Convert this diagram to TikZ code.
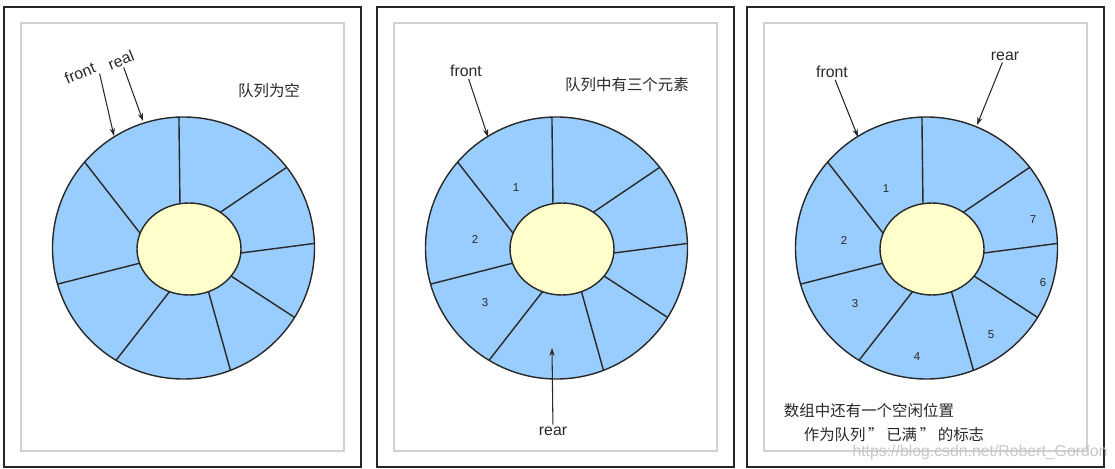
\documentclass[tikz,border=0pt]{standalone}
\usepackage{fontspec}
\setmainfont{Liberation Sans}
\newfontfamily\cjk{Noto Sans CJK SC}
\usetikzlibrary{arrows.meta,calc}
\definecolor{cellblue}{RGB}{153,204,255}
\definecolor{hubyellow}{RGB}{255,255,204}
\definecolor{inkgray}{RGB}{40,40,40}

\begin{document}
\begin{tikzpicture}[x=0.02cm, y=-0.02cm,
    frame/.style={draw=black!85, line width=1.1pt},
    inframe/.style={draw=black!18, line width=0.6pt},
    cell/.style={draw=inkgray, line width=0.8pt},
    lbl/.style={font=\fontsize{9}{10}\selectfont, text=inkgray, inner sep=1pt},
    note/.style={font=\cjk\fontsize{8.8}{10}\selectfont, text=inkgray, inner sep=1pt},
    num/.style={font=\fontsize{6.5}{7}\selectfont, text=inkgray, inner sep=0.5pt},
    ptr/.style={-{Stealth[length=4.5pt,width=3pt]}, line width=0.6pt, inkgray}
  ]
  \useasboundingbox (0,0) rectangle (1115,469);
  % three panels, same ring in each
  \foreach \px in {4,377,747} {
    \begin{scope}[shift={(\px,0)}]
      \draw[frame] (0,7) rectangle (357,467);
      \draw[inframe] (17,23) rectangle (340,451);
      \draw[cell, fill=cellblue] (179.5,248) circle (131);
      \foreach \o/\i in {-92/-100,-38/-53,-2/5,32/36,69/68,121/112,164/162,-139/-160}
        \draw[cell] ($(185,249)+(\i:52 and 46)$) -- ($(179.5,248)+(\o:131)$);
      \draw[cell, fill=hubyellow] (185,249) ellipse (52 and 46);
    \end{scope}
  }
  % panel 1: empty queue
  \node[lbl, rotate=22] (frontA) at (80,73) {front};
  \node[lbl, rotate=22] (realA) at (121,60) {real};
  \node[note] (noteA) at (269,91) {队列为空};
  \coordinate (frontAtip) at (114,136);
  \coordinate (realAtip) at (143,121);
  \draw[ptr] (frontA.south east) -- (frontAtip);
  \draw[ptr] (realA) -- (realAtip);
  % panel 2: three elements
  \node[lbl] (frontB) at (466,71) {front};
  \node[lbl] (rearB) at (553,431) {rear};
  \node[note] (noteB) at (627,85) {队列中有三个元素};
  \coordinate (frontBtip) at (488,137);
  \coordinate (rearBtip) at (552,348);
  \draw[ptr] (frontB) -- (frontBtip);
  \draw[ptr] (rearB) -- (rearBtip);
  \foreach \n/\x/\y in {1/516/188,2/475/240,3/485/303}
    \node[num] (cellB\n) at (\x,\y) {\n};
  % panel 3: full queue
  \node[lbl] (frontC) at (832,72) {front};
  \node[lbl] (rearC) at (1005,56) {rear};
  \coordinate (frontCtip) at (858,137);
  \coordinate (rearCtip) at (977,125);
  \draw[ptr] (frontC) -- (frontCtip);
  \draw[ptr] (rearC) -- (rearCtip);
  \foreach \n/\x/\y in {1/886/189,2/844/241,3/855/304,4/917/357,5/991/335,6/1043/283,7/1033/220}
    \node[num] (cellC\n) at (\x,\y) {\n};
  \node[note] (noteC) at (869,411) {数组中还有一个空闲位置};
  \node[note] (noteD) at (894,435) {作为队列\,”\,已满\,”\,的标志};
  \node[lbl, text=black!22] (mark) at (980,452) {https://blog.csdn.net/Robert\_Gordon};
\end{tikzpicture}
\end{document}
